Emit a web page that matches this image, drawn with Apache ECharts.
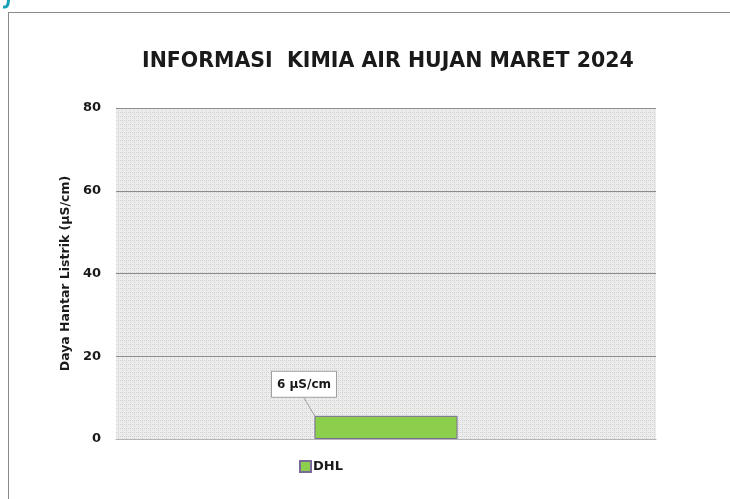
<!DOCTYPE html>
<html>
<head>
<meta charset="utf-8">
<script src="https://cdn.jsdelivr.net/npm/echarts@6/dist/echarts.min.js"></script>
<style>
  html, body { margin: 0; padding: 0; background: #fff; }
  #chart { width: 730px; height: 499px; }
</style>
</head>
<body>
<div id="chart"></div>
<script>
// data
const categories = ["DHL"];
const seriesName = "DHL";
const dhlValues = [5.6];
const yTicks = [0, 20, 40, 60, 80];
const unit = "µS/cm";

// small dotted texture for the plot background
function makePattern() {
    let c = document.createElement("canvas");
    c.width = 4;
    c.height = 4;
    let ctx = c.getContext("2d");
    ctx.fillStyle = "#ececec";
    ctx.fillRect(0, 0, 4, 4);
    ctx.fillStyle = "#d2d2d2";
    ctx.fillRect(0, 0, 1, 1);
    ctx.fillRect(2, 2, 1, 1);
    ctx.fillRect(2, 0, 1, 1);
    return c;
}

const font = "'DejaVu Sans', sans-serif";

const chart = echarts.init(document.getElementById("chart"));
chart.setOption({
    animation: false,
    textStyle: { fontFamily: font },
    title: {
        text: "INFORMASI  KIMIA AIR HUJAN MARET 2024",
        left: 137,
        top: 46,
        textStyle: { fontSize: 20.5, fontWeight: "bold", color: "#1a1a1a", fontFamily: font }
    },
    graphic: [
        // bit of the page heading that pokes into the corner
        {
            type: "bezierCurve",
            shape: { x1: 8.5, y1: -1, cpx1: 8.5, cpy1: 7, cpx2: 6, cpy2: 7.5, x2: 3, y2: 7 },
            style: { stroke: "#16a3b8", lineWidth: 3, fill: null }
        },
        { type: "line", shape: { x1: 8, y1: 12.5, x2: 730, y2: 12.5 }, style: { stroke: "#8a8a8a", lineWidth: 1 } },
        { type: "line", shape: { x1: 8.5, y1: 12, x2: 8.5, y2: 499 }, style: { stroke: "#8a8a8a", lineWidth: 1 } }
    ],
    legend: {
        data: [seriesName],
        left: 294,
        top: 455,
        itemWidth: 11,
        itemHeight: 11,
        itemGap: 4,
        icon: "rect",
        textStyle: { fontSize: 13, fontWeight: "bold", color: "#1a1a1a", padding: [0, 0, 0, -3] }
    },
    grid: {
        left: 116,
        right: 74,
        top: 108,
        bottom: 60,
        show: true,
        borderWidth: 0,
        backgroundColor: { image: makePattern(), repeat: "repeat" }
    },
    xAxis: {
        type: "category",
        data: categories,
        axisLine: { show: true, lineStyle: { color: "#b5b5b5", width: 1 } },
        axisTick: { show: false },
        axisLabel: { show: false }
    },
    yAxis: {
        type: "value",
        min: yTicks[0],
        max: yTicks[yTicks.length - 1],
        interval: 20,
        name: "Daya Hantar Listrik (" + unit + ")",
        nameLocation: "middle",
        nameGap: 42,
        nameTextStyle: { fontSize: 12.5, fontWeight: "bold", color: "#1a1a1a" },
        axisLine: { show: false },
        axisTick: { show: false },
        axisLabel: { fontSize: 13, fontWeight: "bold", color: "#1a1a1a", margin: 15 },
        splitLine: { lineStyle: { color: "#8c8c8c", width: 1 } }
    },
    series: [
        {
            name: seriesName,
            type: "bar",
            data: dhlValues,
            barWidth: "26.5%",
            itemStyle: { color: "#8ccf4d", borderColor: "#7a6a9a", borderWidth: 1 },
            label: {
                show: true,
                position: "top",
                formatter: (p) => Math.round(p.value) + " " + unit,
                fontSize: 12,
                fontWeight: "bold",
                color: "#1a1a1a",
                backgroundColor: "#fff",
                borderColor: "#a0a0a0",
                borderWidth: 1,
                padding: [7, 5, 6, 5]
            },
            labelLayout: { dx: -82, dy: -14 },
            labelLine: { show: true, lineStyle: { color: "#a0a0a0", width: 1 } }
        }
    ]
});
</script>
</body>
</html>
